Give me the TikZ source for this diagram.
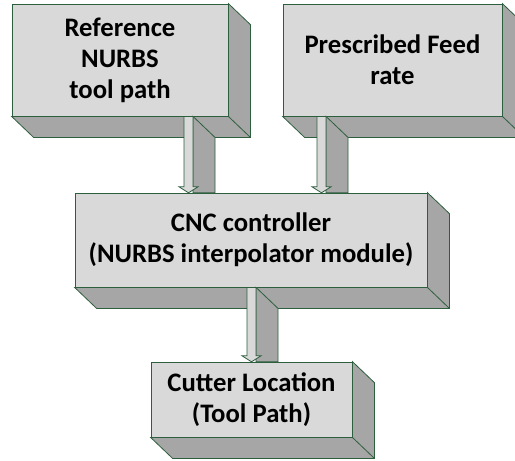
\documentclass[tikz,border=0pt]{standalone}
\usepackage{fontspec}
\setmainfont{Carlito}
\usetikzlibrary{calc}
\definecolor{facecol}{HTML}{D9D9D9}
\definecolor{sidecol}{HTML}{A6A6A6}
\definecolor{edgecol}{HTML}{2D5E3E}
\tikzset{
  frontface/.style={draw=edgecol, fill=facecol, line width=0.8pt, line join=miter},
  sideface/.style={draw=edgecol, fill=sidecol, line width=0.8pt, line join=miter},
  edgeline/.style={draw=edgecol, line width=0.8pt},
  boxnode/.style={frontface, rectangle, inner sep=0pt, align=center,
    font=\fontsize{26.7}{31}\selectfont\bfseries},
}
\newcommand\extrudebox[1]{%
  \filldraw[sideface] (#1.north east) -- ([shift={(22,21)}]#1.north east)
    -- ([shift={(22,21)}]#1.south east) -- ([shift={(22,21)}]#1.south west)
    -- (#1.south west) -- (#1.south east) -- cycle;
  \draw[edgeline] (#1.south east) -- ([shift={(22,21)}]#1.south east);
}
\newcommand\blockarrow[3]{%
  \coordinate (ba) at (#3,0);
  \coordinate (bb) at (#3+9,0);
  \filldraw[sideface] (bb |- #1.south) -- ++(22,21) -- ($(bb |- #2.north)+(22,0)$)
    -- (bb |- #2.north) -- cycle;
  \filldraw[frontface] (ba |- #1.south) -- (bb |- #1.south)
    -- ($(bb |- #2.north)+(0,-6)$) -- ++(5,0)
    -- ($(ba |- #2.north)+(4.5,0)$)
    -- ($(ba |- #2.north)+(-5,-6)$) -- ($(ba |- #2.north)+(0,-6)$) -- cycle;
}
\begin{document}
\begin{tikzpicture}[x=1pt,y=-1pt]
\clip (0,0) rectangle (515,461);
\fill[white] (0,0) rectangle (515,461);
% top boxes
\node[boxnode, minimum width=216pt, minimum height=112pt] (ref) at (120,60)
  {Reference\\NURBS\\tool path};
\extrudebox{ref}
\node[boxnode, minimum width=219pt, minimum height=112pt] (feed) at (392.5,60)
  {Prescribed Feed\\rate};
\extrudebox{feed}
% frame of the CNC box, used as the arrows' target before the box itself is drawn
\node[inner sep=0pt, minimum width=352pt, minimum height=94pt] (cncpos) at (251,240) {};
\blockarrow{ref}{cncpos}{184}
\blockarrow{feed}{cncpos}{317}
\node[boxnode, minimum width=352pt, minimum height=94pt] (cnc) at (251,240)
  {CNC controller\\(NURBS interpolator module)};
\extrudebox{cnc}
\node[inner sep=0pt, minimum width=201pt, minimum height=75pt] (cutpos) at (251.5,399.5) {};
\blockarrow{cnc}{cutpos}{247}
\node[boxnode, minimum width=201pt, minimum height=75pt] (cut) at (251.5,399.5)
  {Cutter Location\\(Tool Path)};
\extrudebox{cut}
\end{tikzpicture}
\end{document}
